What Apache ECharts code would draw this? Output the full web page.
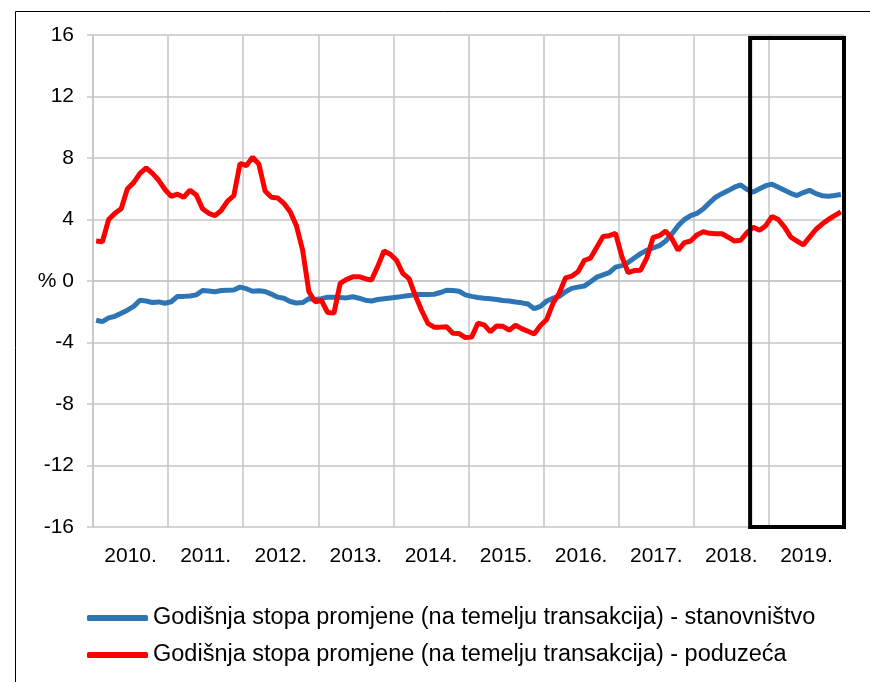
<!DOCTYPE html>
<html>
<head>
<meta charset="utf-8">
<script src="https://cdn.jsdelivr.net/npm/echarts@6/dist/echarts.min.js"></script>
<style>
  html, body { margin: 0; padding: 0; background: #fff; }
  #chart { width: 870px; height: 682px; }
</style>
</head>
<body>
<div id="chart"></div>
<script>
// godine na osi x
const years = ['2010.', '2011.', '2012.', '2013.', '2014.', '2015.', '2016.', '2017.', '2018.', '2019.'];
const yTicks = [-16, -12, -8, -4, 0, 4, 8, 12, 16];

// mjesečne godišnje stope promjene, sij 2010 - pro 2019
const stanovnistvo = [
  -2.55, -2.64, -2.4, -2.3, -2.1, -1.9, -1.65, -1.25, -1.3, -1.4, -1.36, -1.45,
  -1.35, -1.0, -1.0, -0.98, -0.9, -0.62, -0.65, -0.7, -0.62, -0.6, -0.58, -0.4,
  -0.5, -0.67, -0.63, -0.68, -0.85, -1.05, -1.12, -1.33, -1.43, -1.4, -1.15, -1.2,
  -1.15, -1.05, -1.05, -1.08, -1.1, -1.02, -1.12, -1.25, -1.3, -1.2, -1.15, -1.1,
  -1.05, -1.0, -0.95, -0.88, -0.88, -0.88, -0.86, -0.75, -0.6, -0.62, -0.67, -0.9,
  -1.0, -1.07, -1.12, -1.15, -1.2, -1.27, -1.3, -1.37, -1.42, -1.5, -1.8, -1.65,
  -1.3, -1.12, -1.0, -0.7, -0.48, -0.4, -0.33, -0.05, 0.25, 0.4, 0.55, 0.9,
  1.0, 1.2, 1.5, 1.78, 2.0, 2.15, 2.3, 2.6, 3.05, 3.6, 4.0, 4.25,
  4.4, 4.68, 5.08, 5.45, 5.68, 5.88, 6.1, 6.25, 5.95, 5.78, 6.0, 6.2,
  6.3, 6.1, 5.9, 5.7, 5.56, 5.75, 5.9, 5.68, 5.55, 5.51, 5.56, 5.62
];
const poduzeca = [
  2.6, 2.55, 4.0, 4.4, 4.7, 6.0, 6.4, 7.0, 7.35, 7.0, 6.55, 5.95,
  5.5, 5.65, 5.45, 5.9, 5.6, 4.7, 4.4, 4.25, 4.6, 5.2, 5.55, 7.65,
  7.5, 8.05, 7.6, 5.85, 5.45, 5.4, 5.05, 4.5, 3.6, 2.0, -0.7, -1.35,
  -1.27, -2.05, -2.09, -0.15, 0.1, 0.27, 0.28, 0.15, 0.06, 0.95, 1.95, 1.74,
  1.35, 0.5, 0.15, -0.95, -1.9, -2.75, -3.0, -3.0, -2.98, -3.4, -3.42, -3.68,
  -3.65, -2.75, -2.85, -3.3, -2.92, -2.95, -3.2, -2.88, -3.1, -3.27, -3.45, -2.9,
  -2.5, -1.45, -0.8, 0.2, 0.32, 0.6, 1.33, 1.5, 2.2, 2.9, 2.95, 3.1,
  1.6, 0.55, 0.68, 0.7, 1.5, 2.83, 2.95, 3.25, 2.75, 2.0, 2.5, 2.6,
  3.0, 3.2, 3.1, 3.07, 3.07, 2.85, 2.6, 2.65, 3.15, 3.5, 3.3, 3.6,
  4.2, 4.0, 3.5, 2.85, 2.6, 2.35, 2.85, 3.35, 3.7, 4.0, 4.25, 4.5
];

// istaknuto razdoblje (indeksi mjeseci) - okvir
const boxFrom = 105, boxTo = 120;

const names = [
  'Godišnja stopa promjene (na temelju transakcija) - stanovništvo',
  'Godišnja stopa promjene (na temelju transakcija) - poduzeća'
];

const font = 'Liberation Sans, Arial, sans-serif';
const gridColor = '#c6c6c6';

function toPoints(arr) {
  return arr.map((v, i) => [i + 0.5, v]);
}

let chart = echarts.init(document.getElementById('chart'));
chart.setOption({
  animation: false,
  graphic: [{
    type: 'rect',
    left: 13, top: 9,
    shape: { width: 900, height: 700 },
    style: { fill: 'none', stroke: '#000', lineWidth: 1 },
    silent: true
  }],
  grid: { left: 93, right: 26, top: 35, bottom: 155 },
  legend: {
    orient: 'vertical',
    left: 87,
    top: 606,
    padding: 0,
    itemWidth: 61,
    itemHeight: 6,
    itemGap: 13,
    icon: 'roundRect',
    textStyle: { fontFamily: font, fontSize: 23.5, color: '#000' },
    data: names
  },
  xAxis: [
    {
      type: 'category',
      data: years,
      boundaryGap: true,
      axisLine: { lineStyle: { color: gridColor, width: 1.5 } },
      axisTick: { show: false },
      splitLine: { show: true, interval: 0, lineStyle: { color: gridColor, width: 1.5 } },
      axisLabel: { fontFamily: font, fontSize: 21, color: '#000', margin: 19, interval: 0 }
    },
    {
      type: 'value',
      min: 0,
      max: 120,
      show: false
    }
  ],
  yAxis: {
    type: 'value',
    min: yTicks[0],
    max: yTicks[yTicks.length - 1],
    interval: 4,
    axisLine: { show: true, lineStyle: { color: gridColor, width: 1.5 } },
    axisTick: { show: true, length: 6, lineStyle: { color: gridColor, width: 1.5 } },
    splitLine: { lineStyle: { color: gridColor, width: 1.5 } },
    axisLabel: {
      fontFamily: font, fontSize: 21, color: '#000', margin: 19,
      formatter: v => (v === 0 ? '% 0' : String(v))
    }
  },
  series: [
    {
      name: names[0],
      type: 'line',
      xAxisIndex: 1,
      data: toPoints(stanovnistvo),
      showSymbol: false,
      lineStyle: { color: '#2e75b6', width: 5 },
      itemStyle: { color: '#2e75b6' }
    },
    {
      name: names[1],
      type: 'line',
      xAxisIndex: 1,
      data: toPoints(poduzeca),
      showSymbol: false,
      lineStyle: { color: '#ff0000', width: 5 },
      itemStyle: { color: '#ff0000' },
      markArea: {
        silent: true,
        z: 5,
        itemStyle: { color: 'rgba(0,0,0,0)', borderColor: '#000', borderWidth: 4 },
        data: [[{ xAxis: boxFrom, yAxis: 15.8 }, { xAxis: boxTo, yAxis: -16 }]]
      }
    }
  ]
});
window.onresize = () => chart.resize();
</script>
</body>
</html>
